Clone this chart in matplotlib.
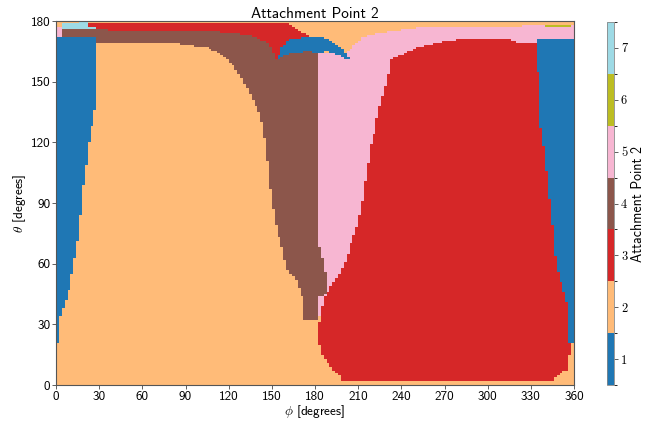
import numpy as np
import matplotlib
matplotlib.use("Agg")
import matplotlib.pyplot as plt
from matplotlib.colors import ListedColormap, BoundaryNorm

# ---------------- data ----------------
categories = [1, 2, 3, 4, 5, 6, 7]
cat_colors = ['#1f77b4', '#ffbb78', '#d62728', '#8c564b', '#f7b6d2', '#bcbd22', '#9edae5']
phi_ticks = [0, 30, 60, 90, 120, 150, 180, 210, 240, 270, 300, 330, 360]
theta_ticks = [0, 30, 60, 90, 120, 150, 180]

# region 1 (left): right edge phi vs theta
blue_left_theta = [21, 28.7, 33.6, 40.5, 48.5, 58.4, 68.2, 81.6, 97.9, 122.6, 131, 136, 171.6]
blue_left_phi = [2.1, 2.1, 3.0, 6.3, 9.7, 11.8, 14.6, 16.7, 18.8, 23.6, 25.7, 27.1, 27.1]
blue_left_top = 171.6
# region 2 (main left body): right edge phi vs theta, and top theta vs phi
orange_edge_theta = [32, 33.6, 42, 51.9, 56.9, 65.3, 81.6, 97.9, 114.7, 129.6, 137.5, 144.4,
                     150.8, 155.8, 160.7, 164.2, 166.6]
orange_edge_phi = [173, 173, 171.7, 167.5, 161.2, 157.8, 152.2, 148.7, 146.6, 143.2, 139.7, 134.8,
                   130, 125.8, 118.8, 111.9, 105]
orange_top_phi = [28, 81, 105]
orange_top_theta = [169, 169, 166.6]
# region 4 (brown): right edge phi vs theta, top theta vs phi
brown_right_theta = [32, 43.5, 45, 50.4, 56, 61.8, 70, 80, 172]
brown_right_phi = [181.4, 181.4, 187, 188.4, 187, 185.6, 182, 181.4, 181.4]
brown_bottom = 32
brown_top_phi = [0, 4, 4.01, 8, 8.01, 36, 100, 112, 134.8, 146.6, 150.5, 153.6, 162.6, 174.4, 181.4, 360]
brown_top_theta = [172, 172, 176.5, 176.5, 175.5, 175.5, 175.3, 174.6, 173.1, 169.1, 165, 160,
                   164.2, 164.7, 164.2, 164.2]
# region 3 (main right body)
red_left_theta = [2.5, 3.5, 7.4, 13.8, 22.3, 35.6, 43.5, 48.5, 55.4, 61.8, 68.2, 78.1, 90, 106.3,
                  121.2, 126.1, 132.5, 142.4, 150.8, 157.3, 172]
red_left_phi = [199, 198.8, 192.5, 185.6, 182.1, 183.5, 187, 190.4, 197.4, 201.6, 204.3, 209.2,
                212.7, 216.2, 219.6, 221.7, 223.1, 226.6, 230, 232, 232]
red_right_theta = [2.5, 3.5, 7.4, 15.8, 28.7, 40.5, 56, 65.3, 81.6, 97.9, 114.7, 131, 172]
red_right_phi = [345, 345.5, 355.2, 357.3, 356.6, 355.2, 349, 346.8, 344.7, 342, 339.8, 336, 334.3]
red_top_phi = [232, 237, 251, 265, 283, 315.5, 320.4, 334.3]
red_top_theta = [160.7, 162.2, 166.6, 169.1, 171.1, 170.6, 169.1, 169.1]
red_bottom = 2.5
# region 1 (right)
blue_right_bottom = 21
blue_right_top = 170.6
# region 5 (pink): top theta vs phi
pink_top_phi = [181, 200, 204.3, 209, 213.4, 222, 230, 240, 251, 322.5, 325, 360]
pink_top_theta = [164, 164, 165.7, 169, 172, 173.5, 174.6, 175.5, 176.5, 176.5, 177.5, 178.5]
pink_bottom = 34
# region 3 (top strip): right edge phi vs theta
strip_right_theta = [159, 173.1, 174.6, 178.5]
strip_right_phi = [175, 175, 169.4, 162.6]
strip_top = 178.5
# region 1 (arc)
arc_phi = [153.6, 157, 162.6, 171.7, 174.4, 181.4, 183.5, 188.4, 192.5, 195.3, 199.5, 202.2, 203, 204.3]
arc_low = [160, 161.7, 164.2, 164.5, 164.7, 164.2, 164.4, 164.7, 164.2, 163.2, 161.8, 160.7, 160.7, 160.7]
arc_up = [160, 167.1, 170.6, 171.6, 171.7, 172.1, 172.1, 170.8, 169.6, 168.2, 165.7, 163, 161.7, 160.7]
# region 7 and 6 (small top patches), region 5 (corner)
lightblue_phi = [4, 22, 29]
lightblue_theta = [175.5, 178.5, 176.5]
lightblue_bump = [17, 22, 179.5]
olive_phi = [340, 357]
olive_theta = [177, 178]
pink_corner = [4, 172, 176.5]

# ---------------- grid ----------------
phi_edges = np.arange(0, 361, 2)
theta_edges = np.arange(0, 181, 1)
P, T = np.meshgrid((phi_edges[:-1] + phi_edges[1:]) / 2, (theta_edges[:-1] + theta_edges[1:]) / 2)
fi = np.interp

G = np.full(P.shape, 2)
# pink
G[(P >= fi(T, brown_right_theta, brown_right_phi)) & (T >= pink_bottom)
  & (T <= fi(P, pink_top_phi, pink_top_theta))] = 5
# brown
G[(T >= brown_bottom) & (P < fi(T, brown_right_theta, brown_right_phi))
  & (T <= fi(P, brown_top_phi, brown_top_theta))] = 4
# orange main body
G[(T >= brown_bottom) & (P < fi(T, orange_edge_theta, orange_edge_phi))
  & (T <= fi(P, orange_top_phi, orange_top_theta))] = 2
# blue left
G[(P < fi(T, blue_left_theta, blue_left_phi)) & (T >= blue_left_theta[0]) & (T <= blue_left_top)] = 1
# red main
G[(P >= fi(T, red_left_theta, red_left_phi)) & (P <= fi(T, red_right_theta, red_right_phi))
  & (T >= red_bottom) & (T <= fi(P, red_top_phi, red_top_theta))] = 3
# blue right
G[(P > fi(T, red_right_theta, red_right_phi)) & (T >= blue_right_bottom) & (T <= blue_right_top)] = 1
# red top strip
G[(P >= 22) & (T > fi(P, brown_top_phi, brown_top_theta)) & (T <= strip_top)
  & (P <= fi(T, strip_right_theta, strip_right_phi))] = 3
# blue arc
G[(P >= arc_phi[0]) & (P <= arc_phi[-1]) & (T >= fi(P, arc_phi, arc_low))
  & (T <= fi(P, arc_phi, arc_up))] = 1
# light blue
G[((P >= lightblue_phi[0]) & (P < lightblue_phi[1]) & (T > lightblue_theta[0]) & (T <= lightblue_theta[1]))
  | ((P >= lightblue_phi[1]) & (P < lightblue_phi[2]) & (T > lightblue_theta[0]) & (T <= lightblue_theta[2]))] = 7
# pink corner
G[(P < pink_corner[0]) & (T > pink_corner[1]) & (T <= pink_corner[2])] = 5
# olive
G[(P >= olive_phi[0]) & (P <= olive_phi[1]) & (T >= olive_theta[0]) & (T <= olive_theta[1])] = 6
# top orange strip
G[T > strip_top] = 2
G[(P >= lightblue_bump[0]) & (P < lightblue_bump[1]) & (T <= lightblue_bump[2]) & (T > lightblue_theta[0])] = 7

# ---------------- plot ----------------
plt.rcParams['mathtext.fontset'] = 'cm'
plt.rcParams['axes.formatter.use_mathtext'] = True
sans = 'cmss10'

fig = plt.figure(figsize=(6.54, 4.21), dpi=100)
ax = fig.add_axes([56 / 654, 36 / 421, 518 / 654, 364 / 421])
cax = fig.add_axes([607 / 654, 36 / 421, 7 / 654, 363 / 421])

cmap = ListedColormap(cat_colors)
norm = BoundaryNorm(np.arange(0.5, 8.5, 1), cmap.N)
mesh = ax.pcolormesh(phi_edges, theta_edges, G, cmap=cmap, norm=norm, shading='flat')

ax.set_xlim(0, 360)
ax.set_ylim(0, 180)
ax.set_xticks(phi_ticks)
ax.set_yticks(theta_ticks)
ax.set_xticklabels([str(v) for v in phi_ticks], fontfamily=sans, fontsize=9.5)
ax.set_yticklabels([str(v) for v in theta_ticks], fontfamily=sans, fontsize=9.5)
ax.tick_params(length=3, width=0.6, pad=1.2, color='#444444')
for s in ax.spines.values():
    s.set_color('#555555')
    s.set_linewidth(0.8)
ax.set_xlabel(r'$\phi$ [degrees]', fontfamily=sans, fontsize=9.5, labelpad=0)
ax.set_ylabel(r'$\theta$ [degrees]', fontfamily=sans, fontsize=9.5, labelpad=2)
ax.set_title('Attachment Point 2', fontfamily=sans, fontsize=11, pad=2)

cb = fig.colorbar(mesh, cax=cax, ticks=categories)
cb.outline.set_edgecolor('#888888')
cb.outline.set_linewidth(0.6)
cax.set_yticklabels([str(c) for c in categories], fontfamily='cmr10', fontsize=9)
cax.tick_params(length=3, width=0.6, pad=2, color='#444444')
cax.set_ylabel('Attachment Point 2', fontfamily=sans, fontsize=10, labelpad=3)

fig.savefig('out.png', dpi=100)
